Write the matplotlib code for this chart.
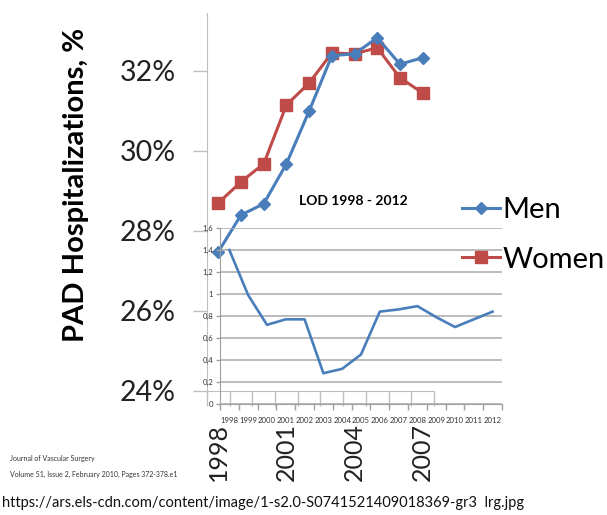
import matplotlib.pyplot as plt
import numpy as np

plt.rcParams['font.family'] = ['Lato', 'DejaVu Sans']

# PAD hospitalizations (%) by sex
years = np.arange(1998, 2008)
men = [27.48, 28.40, 28.68, 29.68, 31.00, 32.38, 32.43, 32.83, 32.17, 32.33]
women = [28.70, 29.23, 29.68, 31.15, 31.70, 32.45, 32.43, 32.58, 31.83, 31.45]

# LOD series 1998 - 2012
lod_years = np.arange(1998, 2013)
lod = [1.40, 0.99, 0.72, 0.77, 0.77, 0.28, 0.32, 0.45, 0.84, 0.86, 0.89, 0.79, 0.70, 0.77, 0.84]

main_yticks = [24, 26, 28, 30, 32]
main_xticks = [1998, 2001, 2004, 2007]
lod_yticks = [0, 0.2, 0.4, 0.6, 0.8, 1.0, 1.2, 1.4, 1.6]
lod_ylabels = ['0', '0,2', '0,4', '0,6', '0,8', '1', '1,2', '1,4', '1,6']

blue = '#4a7ebb'
red = '#be4b48'
axis_gray = '#bfbfbf'

fig = plt.figure(figsize=(6.07, 5.15), dpi=100)

# main chart
ax = fig.add_axes([0.3410, 0.2408, 0.3740, 0.7340])
ax.set_facecolor('none')
men_line, = ax.plot(years, men, color=blue, lw=2.2, marker='D', ms=6.5,
                    label='Men', zorder=4)
women_line, = ax.plot(years, women, color=red, lw=2.2, marker='s', ms=8.5,
                      label='Women', zorder=3)
ax.set_xlim(1997.5, 2007.5)
ax.set_ylim(24, 33.45)
ax.set_yticks(main_yticks)
ax.set_yticklabels([f'{v}%' for v in main_yticks])
ax.set_xticks(main_xticks)
ax.set_xticklabels([str(y) for y in main_xticks], rotation=90)
ax.set_xticks(np.arange(1997.5, 2008.5, 1), minor=True)
ax.tick_params(axis='y', length=10, width=1, color=axis_gray, pad=12.5,
               labelsize=20.5, labelcolor='#222222')
ax.tick_params(axis='x', which='major', length=0, pad=23, labelsize=18,
               labelcolor='#222222')
ax.tick_params(axis='x', which='minor', length=11, width=1, color=axis_gray)
for side in ['top', 'right']:
    ax.spines[side].set_visible(False)
ax.spines['left'].set_color(axis_gray)
ax.spines['bottom'].set_color(axis_gray)
ax.set_ylabel('PAD Hospitalizations, %', fontsize=21, fontweight='bold')
ax.yaxis.set_label_coords(-0.52, 0.545)

# LOD inset
ins = fig.add_axes([0.3624, 0.2155, 0.4646, 0.3417])
ins.set_facecolor('none')
ins.plot(lod_years, lod, color=blue, lw=1.9)
ins.set_xlim(1997.5, 2012.5)
ins.set_ylim(0, 1.6)
ins.set_yticks(lod_yticks)
ins.set_yticklabels(lod_ylabels)
ins.set_xticks(lod_years)
ins.set_xticklabels([str(y) for y in lod_years])
ins.set_xticks(np.arange(1997.5, 2013.5, 1), minor=True)
ins.tick_params(axis='x', which='major', length=0, pad=9, labelsize=5.6,
                labelcolor='#333333')
ins.tick_params(axis='x', which='minor', length=4, width=1, color='#a0a0a0')
ins.tick_params(axis='y', length=3, width=1, color='#a0a0a0', pad=2,
                labelsize=5.6, labelcolor='#333333')
ins.grid(axis='y', color='#b0b0b0', lw=1.2)
ins.set_axisbelow(True)
for side in ['top', 'right']:
    ins.spines[side].set_visible(False)
ins.spines['left'].set_color('#a0a0a0')
ins.spines['bottom'].set_color('#a0a0a0')
fig.text(353 / 607, (515 - 201) / 515, 'LOD 1998 - 2012', fontsize=10,
         fontweight='bold', ha='center', va='center')

fig.legend(handles=[men_line, women_line], loc='upper left',
           bbox_to_anchor=(0.761, 0.617), frameon=False, fontsize=21,
           handlelength=1.3, handletextpad=0.1, labelspacing=0.8,
           borderaxespad=0, borderpad=0)

fig.text(0.016, (515 - 459) / 515, 'Journal of Vascular Surgery',
         fontsize=5, color='#333333', va='center')
fig.text(0.016, (515 - 474) / 515,
         'Volume 51, Issue 2, February 2010, Pages 372-378.e1',
         fontsize=5, color='#333333', va='center')
fig.text(0.004, (515 - 503) / 515,
         'https://ars.els-cdn.com/content/image/1-s2.0-S0741521409018369-gr3  lrg.jpg',
         fontsize=10.5, color='#111111', va='center')

fig.savefig('out.png', dpi=100)
